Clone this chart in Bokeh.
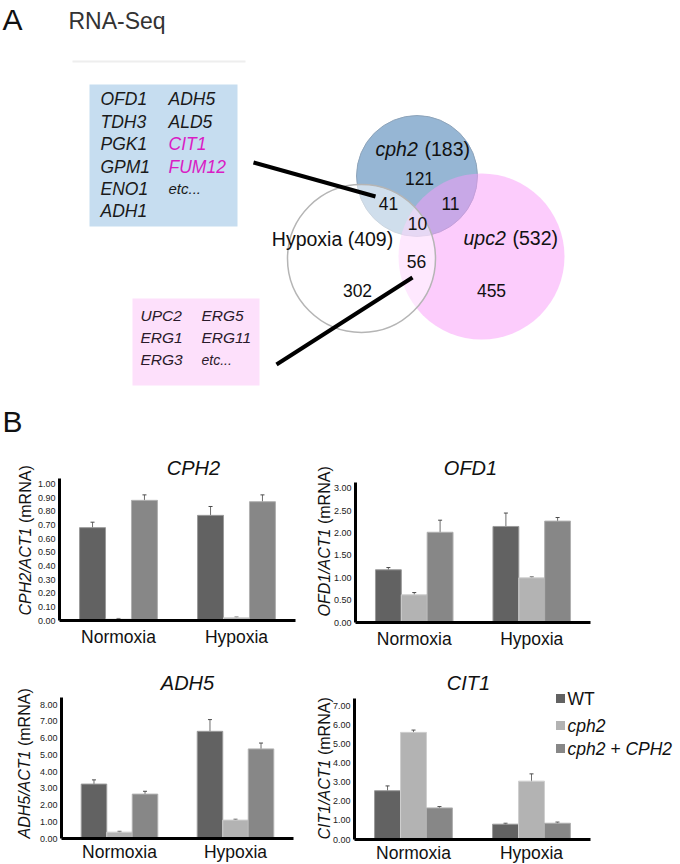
from math import pi
from bokeh.plotting import figure
from bokeh.layouts import column, row
from bokeh.models import (ColumnDataSource, Range1d, FixedTicker, NumeralTickFormatter,
                          Whisker, TeeHead, LinearAxis)
from bokeh.transform import dodge
from bokeh.core.properties import value
from bokeh.embed import file_html
from bokeh.resources import INLINE

FONT = "Liberation Sans"

# ---------------- data ----------------
CONDITIONS = ["Normoxia", "Hypoxia"]
STRAINS = ["WT", "cph2", "cph2 + CPH2"]

CPH2_WT = [0.68, 0.77]
CPH2_WT_ERR = [0.04, 0.065]
CPH2_MUT = [0.01, 0.02]
CPH2_MUT_ERR = [0.005, 0.005]
CPH2_COMP = [0.88, 0.87]
CPH2_COMP_ERR = [0.04, 0.05]
CPH2_TICKS = [0.0, 0.1, 0.2, 0.3, 0.4, 0.5, 0.6, 0.7, 0.8, 0.9, 1.0]

OFD1_WT = [1.18, 2.15]
OFD1_WT_ERR = [0.05, 0.30]
OFD1_MUT = [0.62, 1.00]
OFD1_MUT_ERR = [0.05, 0.02]
OFD1_COMP = [2.02, 2.27]
OFD1_COMP_ERR = [0.27, 0.08]
OFD1_TICKS = [0.0, 0.5, 1.0, 1.5, 2.0, 2.5, 3.0]

ADH5_WT = [3.25, 6.40]
ADH5_WT_ERR = [0.25, 0.70]
ADH5_MUT = [0.38, 1.10]
ADH5_MUT_ERR = [0.05, 0.05]
ADH5_COMP = [2.65, 5.35]
ADH5_COMP_ERR = [0.17, 0.35]
ADH5_TICKS = [0, 1, 2, 3, 4, 5, 6, 7, 8]

CIT1_WT = [2.55, 0.80]
CIT1_WT_ERR = [0.25, 0.05]
CIT1_MUT = [5.60, 3.05]
CIT1_MUT_ERR = [0.12, 0.38]
CIT1_COMP = [1.65, 0.85]
CIT1_COMP_ERR = [0.07, 0.06]
CIT1_TICKS = [0, 1, 2, 3, 4, 5, 6, 7]

VENN_SETS = ["cph2", "upc2", "Hypoxia"]
VENN_TOTALS = [183, 532, 409]
# regions: cph2 only, cph2&hyp, cph2&upc2, all three, upc2&hyp, upc2 only, hyp only
VENN_REGIONS = [121, 41, 11, 10, 56, 455, 302]

BLUE_COL1 = ["OFD1", "TDH3", "PGK1", "GPM1", "ENO1", "ADH1"]
BLUE_COL2 = ["ADH5", "ALD5", "CIT1", "FUM12", "etc..."]
PINK_COL1 = ["UPC2", "ERG1", "ERG3"]
PINK_COL2 = ["ERG5", "ERG11", "etc..."]

WT_COLOR = "#626262"
MUT_COLOR = "#b3b3b3"
COMP_COLOR = "#878787"
STRAIN_COLORS = [WT_COLOR, MUT_COLOR, COMP_COLOR]

# ---------------- Venn panel (data units = pixels) ----------------
venn = figure(width=680, height=440, x_range=Range1d(0, 680), y_range=Range1d(440, 0),
              output_backend="svg", toolbar_location=None, min_border=0,
              x_axis_location=None, y_axis_location=None)
venn.grid.visible = False
venn.outline_line_color = None

venn.text(x=[2, 2], y=[19, 421], text=["A", "B"], text_font=value(FONT), text_font_size="30px",
          text_align="left", text_baseline="middle", text_color="#111111")
venn.text(x=[68], y=[20], text=["RNA-Seq"], text_font=value(FONT), text_font_size="23px",
          text_align="left", text_baseline="middle", text_color="#333333")
venn.segment(x0=[72], y0=[61], x1=[245], y1=[61], line_color="#eeeeee", line_width=2)

# gene boxes
venn.quad(left=[89], right=[237], top=[84], bottom=[226], fill_color="#c6ddf0", line_color=None)
venn.quad(left=[132], right=[259], top=[298], bottom=[385], fill_color="#fde0fb", line_color=None)

row_y1 = [98, 121, 143, 166, 188, 210]
venn.text(x=[100] * len(BLUE_COL1), y=row_y1[:len(BLUE_COL1)], text=BLUE_COL1,
          text_font=value(FONT), text_font_size="17.5px", text_font_style="italic",
          text_align="left", text_baseline="middle", text_color="#1a1a1a")
col2_colors = ["#1a1a1a", "#1a1a1a", "#d91cc4", "#d91cc4", "#1a1a1a"]
venn.text(x=[168] * 4, y=row_y1[:4], text=BLUE_COL2[:4],
          text_font=value(FONT), text_font_size="17.5px", text_font_style="italic",
          text_align="left", text_baseline="middle", text_color=col2_colors[:4])
venn.text(x=[168], y=[row_y1[4]], text=[BLUE_COL2[4]],
          text_font=value(FONT), text_font_size="15px", text_font_style="italic",
          text_align="left", text_baseline="middle", text_color="#1a1a1a")

row_y2 = [315, 337, 359]
venn.text(x=[140] * 3, y=row_y2, text=PINK_COL1, text_font=value(FONT), text_font_size="15.5px",
          text_font_style="italic", text_align="left", text_baseline="middle", text_color="#2a1a2a")
venn.text(x=[201] * 2, y=row_y2[:2], text=PINK_COL2[:2], text_font=value(FONT), text_font_size="15.5px",
          text_font_style="italic", text_align="left", text_baseline="middle", text_color="#2a1a2a")
venn.text(x=[201], y=[row_y2[2]], text=[PINK_COL2[2]], text_font=value(FONT), text_font_size="14px",
          text_font_style="italic", text_align="left", text_baseline="middle", text_color="#2a1a2a")

# circles
venn.ellipse(x=[416.5], y=[175.5], width=[121], height=[121], fill_color="#96b6d4",
             line_color="#8ea4ba", line_width=1)
venn.ellipse(x=[481], y=[256], width=[166], height=[166], fill_color="#f999f9", fill_alpha=0.5,
             line_color=None)
venn.ellipse(x=[361], y=[258], width=[148], height=[148], fill_color="white", fill_alpha=0.55,
             line_color="#b5b5b5", line_width=1.5)

# pointer lines
venn.segment(x0=[253, 412], y0=[162, 277], x1=[375, 276], y1=[196, 364],
             line_color="black", line_width=4)

# set labels
venn.text(x=[375], y=[148], text=[VENN_SETS[0]], text_font=value(FONT), text_font_size="19.5px",
          text_font_style="italic", text_align="left", text_baseline="middle", text_color="#111111")
venn.text(x=[424], y=[148], text=[f"({VENN_TOTALS[0]})"], text_font=value(FONT), text_font_size="19.5px",
          text_align="left", text_baseline="middle", text_color="#111111")
venn.text(x=[463], y=[237], text=[VENN_SETS[1]], text_font=value(FONT), text_font_size="19.5px",
          text_font_style="italic", text_align="left", text_baseline="middle", text_color="#111111")
venn.text(x=[512], y=[237], text=[f"({VENN_TOTALS[1]})"], text_font=value(FONT), text_font_size="19.5px",
          text_align="left", text_baseline="middle", text_color="#111111")
venn.text(x=[332], y=[238], text=[f"{VENN_SETS[2]} ({VENN_TOTALS[2]})"], text_font=value(FONT),
          text_font_size="19.5px", text_align="center", text_baseline="middle", text_color="#111111")

region_x = [419, 388, 450, 417, 416, 491, 357]
region_y = [178, 203, 203, 223, 261, 290, 290]
venn.text(x=region_x, y=region_y, text=[str(v) for v in VENN_REGIONS], text_font=value(FONT),
          text_font_size="17.5px", text_align="center", text_baseline="middle", text_color="#111111")


# ---------------- bar charts ----------------
CW = {"C": .722, "P": .667, "H": .722, "O": .778, "F": .611, "D": .722, "A": .667, "T": .611,
      "I": .278, "/": .278, " ": .278, "(": .333, ")": .333, "m": .833, "R": .722, "N": .722,
      "1": .556, "2": .556, "5": .556}


def text_w(s, size):
    return sum(CW.get(c, .6) for c in s) * size


def bar_chart(gene, wt, wt_e, mut, mut_e, comp, comp_e, ticks, y_end, fig_w, fig_h,
              left, frame_w, top, frame_h, lab_dx, lab_y0, title_dx, title_dy,
              cat_standoff=6, legend=False):
    # pixel geometry -> data ranges (axes drawn at fixed locations inside the canvas)
    n = len(CONDITIONS)
    ppx = frame_w / n
    ppy = frame_h / y_end
    bottom = fig_h - top - frame_h
    x_lo = 0.5 - left / ppx
    x_hi = 0.5 + (fig_w - left) / ppx
    y_lo = -bottom / ppy
    y_hi = y_end + top / ppy

    def px(dx):
        return 0.5 + dx / ppx

    def py(dy):
        return dy / ppy

    p = figure(x_range=Range1d(x_lo, x_hi), y_range=Range1d(y_lo, y_hi),
               width=fig_w, height=fig_h, min_border=0,
               x_axis_location=None, y_axis_location=None,
               output_backend="svg", toolbar_location=None)
    p.grid.visible = False
    p.outline_line_color = None

    pos = [i + 1 for i in range(n)]
    src = ColumnDataSource(dict(
        pos=pos, wt=wt, mut=mut, comp=comp,
        wt_lo=[v - e for v, e in zip(wt, wt_e)], wt_hi=[v + e for v, e in zip(wt, wt_e)],
        mut_lo=[v - e for v, e in zip(mut, mut_e)], mut_hi=[v + e for v, e in zip(mut, mut_e)],
        comp_lo=[v - e for v, e in zip(comp, comp_e)], comp_hi=[v + e for v, e in zip(comp, comp_e)],
    ))
    for key, off, col, edge in [("wt", -0.22, WT_COLOR, "#9a9a9a"), ("mut", 0.0, MUT_COLOR, "#cfcfcf"),
                                ("comp", 0.22, COMP_COLOR, "#b0b0b0")]:
        p.vbar(x=dodge("pos", off), top=key, width=0.22, source=src,
               fill_color=col, line_color=edge, line_width=1)
        w = Whisker(base=dodge("pos", off), upper=key + "_hi", lower=key + "_lo",
                    source=src, line_color="#4a4a4a", line_width=1, line_alpha=0.8,
                    upper_head=TeeHead(size=4, line_color="#4a4a4a", line_width=1),
                    lower_head=TeeHead(size=4, line_color="#4a4a4a", line_width=1))
        p.add_layout(w)

    yax = LinearAxis(fixed_location=0.5, bounds=(0, y_end), ticker=FixedTicker(ticks=ticks),
                     formatter=NumeralTickFormatter(format="0.00"))
    xax = LinearAxis(fixed_location=0, bounds=(0.5, n + 0.5), ticker=FixedTicker(ticks=pos),
                     major_label_overrides={k: v for k, v in zip(pos, CONDITIONS)})
    for ax in (xax, yax):
        ax.axis_line_width = 3
        ax.axis_line_color = "black"
        ax.major_tick_line_color = None
        ax.minor_tick_line_color = None
        ax.major_tick_out = 0
        ax.major_tick_in = 0
        ax.minor_tick_out = 0
        ax.minor_tick_in = 0
        ax.major_label_text_font = FONT
    yax.major_label_text_font_size = "9px"
    yax.major_label_text_color = "#222222"
    yax.major_label_standoff = 4
    xax.major_label_text_font_size = "17.5px"
    xax.major_label_text_color = "#111111"
    xax.major_label_standoff = cat_standoff
    p.add_layout(yax, "left")
    p.add_layout(xax, "below")

    # title
    p.text(x=[px(title_dx)], y=[py(frame_h + title_dy)], text=[gene], text_align="center",
           text_baseline="middle", text_font=value(FONT), text_font_style="italic",
           text_font_size="20px", text_color="#111111")
    # y axis label: italic ratio + normal (mRNA)
    fs = 16
    part1 = f"{gene}/ACT1 "
    p.text(x=[px(lab_dx)], y=[py(lab_y0)], text=[part1.strip()], angle=pi / 2,
           text_align="left", text_baseline="middle", text_font=value(FONT),
           text_font_style="italic", text_font_size=f"{fs}px", text_color="#111111")
    p.text(x=[px(lab_dx)], y=[py(lab_y0 + text_w(part1, fs))], text=["(mRNA)"], angle=pi / 2,
           text_align="left", text_baseline="middle", text_font=value(FONT),
           text_font_size=f"{fs}px", text_color="#111111")

    if legend:
        sq_x = 202
        rows_y = [141, 114, 91]
        p.rect(x=[px(sq_x + 4)] * 3, y=[py(v) for v in rows_y], width=9, height=9,
               width_units="screen", height_units="screen", fill_color=STRAIN_COLORS,
               line_color=None)
        p.text(x=[px(sq_x + 11)], y=[py(rows_y[0])], text=[STRAINS[0]], text_align="left",
               text_baseline="middle", text_font=value(FONT), text_font_size="17.5px",
               text_color="#111111")
        p.text(x=[px(sq_x + 11)] * 2, y=[py(v) for v in rows_y[1:]], text=STRAINS[1:],
               text_align="left", text_baseline="middle", text_font=value(FONT),
               text_font_style="italic", text_font_size="17.5px", text_color="#111111")
    return p


f1 = bar_chart("CPH2", CPH2_WT, CPH2_WT_ERR, CPH2_MUT, CPH2_MUT_ERR, CPH2_COMP, CPH2_COMP_ERR,
               CPH2_TICKS, 1.04, 300, 210, 59, 236, 38, 142, -34, 5, 134, 11)
f2 = bar_chart("OFD1", OFD1_WT, OFD1_WT_ERR, OFD1_MUT, OFD1_MUT_ERR, OFD1_COMP, OFD1_COMP_ERR,
               OFD1_TICKS, 3.134, 380, 210, 55, 235, 42, 140, -31, 6, 115, 15)
f3 = bar_chart("ADH5", ADH5_WT, ADH5_WT_ERR, ADH5_MUT, ADH5_MUT_ERR, ADH5_COMP, ADH5_COMP_ERR,
               ADH5_TICKS, 8.42, 300, 214, 61, 232, 47, 141, -37, 0, 126, 15, cat_standoff=3)
f4 = bar_chart("CIT1", CIT1_WT, CIT1_WT_ERR, CIT1_MUT, CIT1_MUT_ERR, CIT1_COMP, CIT1_COMP_ERR,
               CIT1_TICKS, 7.37, 380, 214, 54, 236, 48, 141, -30, 0, 114, 16, cat_standoff=3,
               legend=True)

layout = column(venn, row(f1, f2), row(f3, f4))
open("out.html", "w").write(file_html(layout, INLINE))
